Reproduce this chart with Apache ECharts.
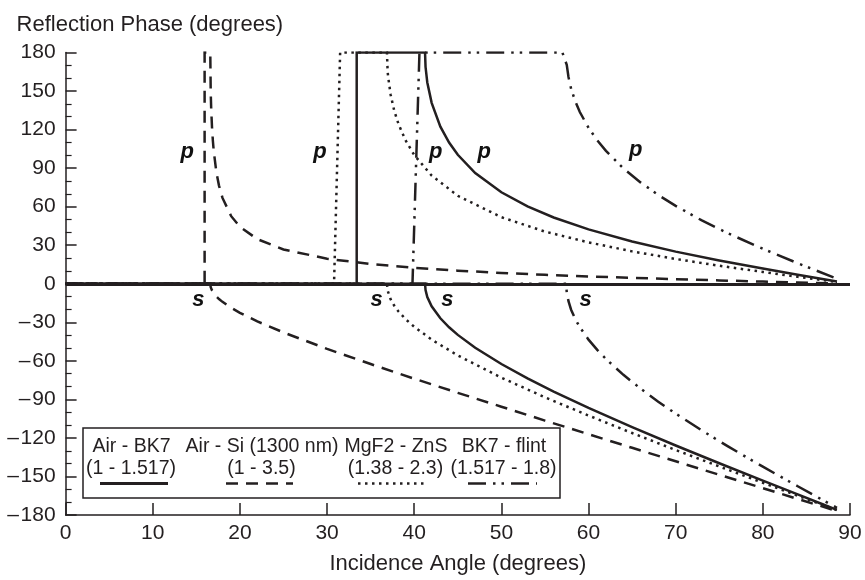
<!DOCTYPE html>
<html>
<head>
<meta charset="utf-8">
<script src="https://cdn.jsdelivr.net/npm/echarts/dist/echarts.min.js"></script>
<style>html,body{margin:0;padding:0;background:#fff}#chart{width:865px;height:580px}</style>
</head>
<body>
<div id="chart"></div>
<script>
// ---------- data (incidence angle in degrees, reflection phase in degrees) ----------
const airBK7_p = [[0,0],[33.4,0],[33.4,180],[41.24,180],[41.3,168.7],[41.5,156.7],[42,140.8],[43,122.3],[44,109.9],[45,100.4],[47,86.2],[50,71.2],[53,60.2],[56,51.6],[60,42.3],[65,32.9],[70,25.0],[75,18.1],[80,11.8],[84,7.0],[87,3.5],[88.5,1.7]];
const airBK7_s = [[0,0],[41.24,0],[41.3,-4.9],[41.5,-10.3],[42,-17.6],[43,-26.9],[44,-33.9],[45,-39.8],[47,-49.8],[50,-62.5],[53,-73.7],[56,-83.9],[60,-96.7],[65,-111.6],[70,-125.9],[75,-139.7],[80,-153.3],[84,-164.0],[87,-172.0],[88.5,-176.0]];

const airSi_p = [[0,0],[15.95,0],[15.95,180],[16.6,180],[16.65,149.1],[16.7,137.1],[16.8,121.6],[16.9,111.1],[17,103.1],[17.3,86.8],[17.6,76.4],[18,66.8],[19,52.6],[20,44.4],[22,34.7],[25,26.7],[30,19.5],[35,15.3],[40,12.4],[45,10.2],[50,8.4],[55,7.0],[60,5.7],[65,4.6],[70,3.6],[75,2.6],[80,1.7],[84,1.0],[88.5,0.3]];
const airSi_s = [[0,0],[16.6,0],[16.65,-2.6],[16.7,-3.7],[16.8,-5.2],[16.9,-6.4],[17,-7.4],[17.3,-9.9],[17.6,-11.9],[18,-14.1],[19,-18.7],[20,-22.6],[22,-29.3],[25,-37.9],[30,-50.7],[35,-62.5],[40,-73.9],[45,-84.9],[50,-95.7],[55,-106.5],[60,-117.1],[65,-127.7],[70,-138.2],[75,-148.7],[80,-159.1],[84,-167.5],[88.5,-176.9]];

const mgf2ZnS_p = [[0,0],[30.8,0],[31.5,180],[36.87,180],[36.95,165.4],[37,161.5],[37.3,146.9],[37.7,134.9],[38.2,124.2],[39,111.7],[40,100.2],[42,84.2],[45,68.5],[50,51.8],[55,40.6],[60,32.2],[65,25.2],[70,19.3],[75,14.0],[80,9.2],[84,5.4],[88.5,1.4]];
const mgf2ZnS_s = [[0,0],[36.87,0],[36.95,-5.3],[37,-6.7],[37.3,-12.2],[37.7,-17.0],[38.2,-21.6],[39,-27.5],[40,-33.5],[42,-43.5],[45,-55.8],[50,-73.1],[55,-88.4],[60,-102.6],[65,-116.2],[70,-129.4],[75,-142.2],[80,-154.9],[84,-165.0],[88.5,-176.2]];

const bk7Flint_p = [[0,0],[39.8,0],[40.6,180],[57.0,180],[57.5,170.4],[57.7,160.9],[58,151.8],[58.5,141.6],[59,133.7],[60,121.4],[61,111.6],[62,103.4],[64,89.8],[66,78.7],[68,69.1],[70,60.6],[73,49.3],[76,39.3],[80,27.2],[84,16.0],[86,10.6],[88.5,4.0]];
const bk7Flint_s = [[0,0],[57.43,0],[57.5,-6.8],[57.7,-13.6],[58,-20.2],[58.5,-27.8],[59,-33.8],[60,-43.5],[61,-51.5],[62,-58.6],[64,-70.9],[66,-81.8],[68,-91.8],[70,-101.1],[73,-114.2],[76,-126.6],[80,-142.4],[84,-157.6],[86,-165.1],[88.5,-174.4]];

const legendNames   = ['Air - BK7', 'Air - Si (1300 nm)', 'MgF2 - ZnS', 'BK7 - flint'];
const legendIndices = ['(1 - 1.517)', '(1 - 3.5)', '(1.38 - 2.3)', '(1.517 - 1.8)'];

// curve annotations (p / s) in data coordinates
const pLabelPos = [[13.96,102.6],[29.18,102.6],[42.46,102.6],[48.03,102.6],[65.4,103.8]];
const sLabelPos = [[15.22,-12.8],[35.69,-12.8],[43.79,-12.8],[59.66,-12.8]];

const xAxisName = 'Incidence Angle (degrees)';
const yAxisName = 'Reflection Phase (degrees)';

// ---------- styling ----------
const INK = '#231f20';
const FONT = '"Liberation Sans", Arial, Helvetica, sans-serif';
const dashStyles = ['solid', [12, 8], [2.5, 4.5], [18, 7, 2.5, 6, 2.5, 7]];
const curveSets = [
  [airBK7_p, airBK7_s],
  [airSi_p, airSi_s],
  [mgf2ZnS_p, mgf2ZnS_s],
  [bk7Flint_p, bk7Flint_s]
];

const series = [];
curveSets.forEach((pair, i) => {
  ['p', 's'].forEach((pol, j) => {
    series.push({
      name: legendNames[i] + ' ' + pol,
      type: 'line',
      data: pair[j],
      showSymbol: false,
      symbol: 'none',
      silent: true,
      lineStyle: { color: INK, width: 2.5, type: dashStyles[i], cap: 'butt', join: 'miter' },
      z: 3
    });
  });
});
// zero reference line
series[0].markLine = {
  silent: true,
  symbol: ['none', 'none'],
  label: { show: false },
  lineStyle: { type: 'solid', color: INK, width: 3 },
  data: [{ yAxis: 0 }]
};
// p / s annotations placed through the axes' scales
const labelSeries = (pts, txt) => ({
  type: 'custom',
  silent: true,
  data: pts,
  renderItem: (params, api) => {
    const pt = api.coord([api.value(0), api.value(1)]);
    return {
      type: 'text', x: pt[0], y: pt[1],
      style: { text: txt, fill: '#111', fontSize: 22, fontWeight: 'bold', fontStyle: 'italic',
               fontFamily: FONT, align: 'center', verticalAlign: 'middle' }
    };
  },
  z: 5
});
series.push(labelSeries(pLabelPos, 'p'));
series.push(labelSeries(sLabelPos, 's'));

// ---------- legend box (drawn as graphic) ----------
const legendCols = [131.5, 262, 396, 504];
const legendSamples = [[100, 168], [226, 293], [358, 425], [468, 537]];
const graphics = [{
  type: 'rect', z: 100,
  shape: { x: 83, y: 428, width: 477, height: 70 },
  style: { fill: '#fff', stroke: INK, lineWidth: 1.5 }
}];
legendNames.forEach((n, i) => {
  graphics.push({ type: 'text', z: 101, x: legendCols[i], y: 446.7,
    style: { text: n, fill: INK, fontSize: 19.5, fontFamily: FONT, align: 'center', verticalAlign: 'middle' } });
  graphics.push({ type: 'text', z: 101, x: legendCols[i] - 0.5, y: 468.4,
    style: { text: legendIndices[i], fill: INK, fontSize: 19.5, fontFamily: FONT, align: 'center', verticalAlign: 'middle' } });
  graphics.push({ type: 'line', z: 101,
    shape: { x1: legendSamples[i][0], y1: 483.5, x2: legendSamples[i][1], y2: 483.5 },
    style: { stroke: INK, lineWidth: i === 0 ? 3 : 2.5, lineDash: dashStyles[i] === 'solid' ? null : dashStyles[i] } });
});

const chart = echarts.init(document.getElementById('chart'), null, { renderer: 'canvas' });
chart.setOption({
  animation: false,
  backgroundColor: '#fff',
  textStyle: { fontFamily: FONT, color: INK },
  grid: { left: 65.6, right: 15, top: 52.5, bottom: 64.7, containLabel: false },
  xAxis: {
    type: 'value', min: 0, max: 90, interval: 10,
    name: xAxisName, nameLocation: 'middle', nameGap: 38,
    nameTextStyle: { fontSize: 22, color: INK, fontFamily: FONT },
    axisLine: { show: true, onZero: false, lineStyle: { color: INK, width: 1.5 } },
    axisTick: { show: true, inside: true, length: 12, lineStyle: { color: INK, width: 1.5 } },
    splitLine: { show: false },
    axisLabel: { fontSize: 21, color: INK, fontFamily: FONT, margin: 8 }
  },
  yAxis: {
    type: 'value', min: -180, max: 180, interval: 30,
    name: yAxisName, nameLocation: 'end', nameGap: 17,
    nameTextStyle: { fontSize: 22, color: INK, fontFamily: FONT, align: 'left', verticalAlign: 'bottom', padding: [0, 0, 0, -49] },
    axisLine: { show: true, onZero: false, lineStyle: { color: INK, width: 1.5 } },
    axisTick: { show: true, inside: true, length: 11, lineStyle: { color: INK, width: 1.5 } },
    minorTick: { show: true, splitNumber: 3, length: 6, lineStyle: { color: INK, width: 1.2 } },
    splitLine: { show: false },
    minorSplitLine: { show: false },
    axisLabel: { fontSize: 21, color: INK, fontFamily: FONT, margin: 10,
      formatter: v => (v < 0 ? '\u2013\u200A' + Math.abs(v) : String(v)) }
  },
  graphic: graphics,
  series: series
});
</script>
</body>
</html>
